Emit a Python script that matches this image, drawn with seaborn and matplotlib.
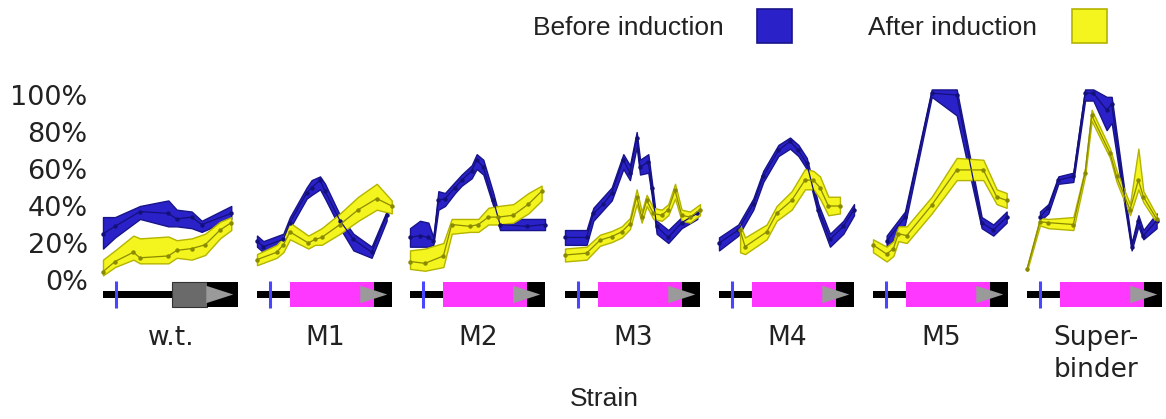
import matplotlib
matplotlib.use("Agg")
import matplotlib.pyplot as plt
import seaborn as sns
import pandas as pd
from matplotlib.patches import Rectangle, Polygon

sns.set_theme(style="white")
plt.rcParams['font.family'] = ['DejaVu Sans']

# ---------------- data ----------------
strains = ["w.t.", "M1", "M2", "M3", "M4", "M5", "Super-\nbinder"]
y_ticks = [0, 20, 40, 60, 80, 100]
y_tick_labels = ["0%", "20%", "40%", "60%", "80%", "100%"]
series_labels = ["Before induction", "After induction"]
x_label = "Strain"

# positions along the construct (0 = start, 1 = end), % bound, band low/high
wt_before_x = [0.0, 0.089, 0.274, 0.484, 0.546, 0.657, 0.731, 0.95]
wt_before_mid = [25, 29, 37, 36, 33, 34, 30, 36]
wt_before_lo = [17, 23, 33, 29, 29, 28, 26, 33]
wt_before_hi = [34, 34, 40, 43, 38, 37, 32, 40]
wt_after_x = [0.0, 0.089, 0.225, 0.274, 0.484, 0.546, 0.657, 0.756, 0.867, 0.95]
wt_after_mid = [4.5, 10, 15, 12, 13, 16, 17, 19, 27, 31]
wt_after_lo = [2.5, 7, 11, 9, 9, 12, 11, 13.5, 22.5, 27]
wt_after_hi = [11, 16, 24, 22.5, 23.5, 21.5, 22.5, 25, 31.5, 34]

m1_before_x = [0.0, 0.047, 0.195, 0.244, 0.368, 0.405, 0.467, 0.504, 0.615, 0.714, 0.849, 0.96]
m1_before_mid = [21, 18, 22, 31, 47, 50, 54, 48, 32, 22, 15, 35]
m1_before_lo = [18, 15, 19, 28, 44, 46, 49, 44, 28, 16, 12, 32]
m1_before_hi = [24, 21, 25, 34, 50, 54, 56, 52, 35, 25, 18, 37]
m1_after_x = [0.0, 0.146, 0.195, 0.244, 0.38, 0.43, 0.479, 0.615, 0.75, 0.887, 0.998]
m1_after_mid = [11, 15, 19, 26, 20, 22, 23, 30, 38, 44, 40]
m1_after_lo = [8, 12, 15, 22, 17, 19, 19, 25, 32, 38, 36]
m1_after_hi = [14, 19, 23, 31, 24, 26, 28, 36, 45, 52, 43]

m2_before_x = [0.0, 0.074, 0.136, 0.173, 0.21, 0.259, 0.333, 0.383, 0.457, 0.494, 0.543, 0.617, 0.667, 0.864, 1.0]
m2_before_mid = [23, 24, 23, 21, 43, 44, 50, 54, 59, 65, 61, 43, 30, 29, 30]
m2_before_lo = [18, 18, 18, 19, 38, 40, 47, 51, 55, 60, 57, 40, 27, 27, 27]
m2_before_hi = [28, 32, 31, 23, 48, 47, 53, 57, 62, 68, 65, 47, 33, 33, 33]
m2_after_x = [0.0, 0.111, 0.247, 0.309, 0.444, 0.506, 0.58, 0.654, 0.765, 0.877, 0.975]
m2_after_mid = [10, 9, 13, 30, 29, 30, 34, 34, 35, 41, 48]
m2_after_lo = [6, 5, 7, 25, 26, 26, 30, 30, 31, 36, 43]
m2_after_hi = [16, 17, 20, 33, 33, 33, 39, 40, 41, 47, 51]

m3_before_x = [0.0, 0.16, 0.21, 0.284, 0.346, 0.432, 0.481, 0.531, 0.556, 0.617, 0.642, 0.679, 0.765, 0.864, 0.98]
m3_before_mid = [23, 23, 36, 41, 47, 65, 58, 77, 61, 64, 50, 29, 23, 31, 36]
m3_before_lo = [19, 19, 32, 38, 43, 60, 54, 72, 57, 58, 46, 25, 20, 28, 33]
m3_before_hi = [27, 27, 39, 45, 50, 68, 62, 80, 65, 68, 54, 32, 27, 34, 39]
m3_after_x = [0.0, 0.16, 0.259, 0.346, 0.42, 0.481, 0.531, 0.568, 0.605, 0.654, 0.716, 0.765, 0.815, 0.864, 0.926, 1.0]
m3_after_mid = [13.5, 14.5, 21.5, 23.5, 26, 30.5, 45, 34, 43, 36, 35, 38, 48.5, 35, 34, 38]
m3_after_lo = [10, 11, 18.5, 20.5, 23, 27.5, 41, 31, 40, 33, 32, 35, 44, 32, 31, 35]
m3_after_hi = [17, 18, 24.5, 26.5, 29, 33.5, 49, 37, 46, 39, 38, 41, 52, 38, 37, 41]

m4_before_x = [0.0, 0.143, 0.254, 0.328, 0.44, 0.526, 0.588, 0.65, 0.736, 0.822, 0.921, 1.0]
m4_before_mid = [20, 27, 41, 56, 70, 75, 70, 63, 38, 22, 29, 38]
m4_before_lo = [16, 24, 38, 53, 67, 71, 67, 60, 35, 18, 25, 35]
m4_before_hi = [23, 30, 44, 59, 73, 77, 73, 66, 41, 25, 32, 41]
m4_after_x = [0.156, 0.193, 0.353, 0.427, 0.538, 0.637, 0.699, 0.748, 0.81, 0.896]
m4_after_mid = [27, 18, 26, 36, 43, 54, 54, 50, 40, 40]
m4_after_lo = [15, 14, 22, 32, 38, 49, 49, 44, 35, 36]
m4_after_hi = [30, 23, 30, 40, 48, 60, 59, 56, 45, 45]

m5_before_x = [0.101, 0.237, 0.435, 0.62, 0.805, 0.891, 0.99]
m5_before_mid = [21, 34, 101, 100, 31, 27, 34]
m5_before_lo = [17, 30, 99, 89, 28, 24, 31]
m5_before_hi = [24, 37, 103, 103, 34, 30, 37]
m5_after_x = [0.0, 0.101, 0.151, 0.188, 0.25, 0.435, 0.62, 0.817, 0.916, 0.99]
m5_after_mid = [19, 14, 17, 25, 24, 40.5, 59.5, 59.5, 45, 43]
m5_after_lo = [15, 10, 13, 21, 20, 36, 54, 54, 41, 39]
m5_after_hi = [22, 18, 21, 29, 29, 45, 66, 65, 49, 47]

sb_before_x = [0.096, 0.158, 0.232, 0.343, 0.43, 0.491, 0.59, 0.627, 0.775, 0.825, 0.862, 0.96]
sb_before_mid = [34, 39, 54, 56, 101, 101, 92, 95, 18, 32, 24, 32]
sb_before_lo = [32, 36, 52, 53, 97, 97, 81, 85, 16, 29, 22, 28]
sb_before_hi = [37, 41, 56, 58, 103, 103, 99, 99, 20, 35, 27, 36]
sb_after_x = [0.0, 0.096, 0.158, 0.343, 0.43, 0.479, 0.615, 0.664, 0.763, 0.825, 0.862, 0.96]
sb_after_mid = [6, 31.5, 31, 30, 58, 89, 68.5, 56, 38, 54, 45, 33]
sb_after_lo = [5, 29.5, 28, 27, 56, 86, 66, 53, 35, 49, 42, 31]
sb_after_hi = [7, 33.5, 33, 34, 60, 92, 71, 59, 41, 71, 48, 35]

# gene construct features (fraction of construct length)
wt_domain = (0.51, 0.77)
mut_domain = (0.245, 0.865)
site_pos = 0.095
arrow_span = (0.765, 0.965)

before_sets = [
    (wt_before_x, wt_before_mid, wt_before_lo, wt_before_hi),
    (m1_before_x, m1_before_mid, m1_before_lo, m1_before_hi),
    (m2_before_x, m2_before_mid, m2_before_lo, m2_before_hi),
    (m3_before_x, m3_before_mid, m3_before_lo, m3_before_hi),
    (m4_before_x, m4_before_mid, m4_before_lo, m4_before_hi),
    (m5_before_x, m5_before_mid, m5_before_lo, m5_before_hi),
    (sb_before_x, sb_before_mid, sb_before_lo, sb_before_hi),
]
after_sets = [
    (wt_after_x, wt_after_mid, wt_after_lo, wt_after_hi),
    (m1_after_x, m1_after_mid, m1_after_lo, m1_after_hi),
    (m2_after_x, m2_after_mid, m2_after_lo, m2_after_hi),
    (m3_after_x, m3_after_mid, m3_after_lo, m3_after_hi),
    (m4_after_x, m4_after_mid, m4_after_lo, m4_after_hi),
    (m5_after_x, m5_after_mid, m5_after_lo, m5_after_hi),
    (sb_after_x, sb_after_mid, sb_after_lo, sb_after_hi),
]

# ---------------- style ----------------
W, H = 1166, 419
BLUE_FILL, BLUE_EDGE, BLUE_LINE = "#2a22c8", "#18148a", "#14107a"
YEL_FILL, YEL_EDGE, YEL_LINE = "#f4f41e", "#b4b400", "#8a8a00"
MAGENTA, DARKGRAY, LIGHTGRAY, SITE = "#ff38ff", "#6a6a6a", "#9a9a9a", "#4a46ff"

panel_left = [103, 257, 410, 565, 719, 873, 1027]
panel_w = 135
top_px, zero_px = 95, 280

fig = plt.figure(figsize=(W / 100, H / 100), dpi=100)
fig.patch.set_facecolor("white")


def fx(px):
    return px / W


def fy(py):
    return 1 - py / H


def draw_series(ax, xs, mid, lo, hi, fill, edge, line):
    df = pd.DataFrame({"pos": xs, "mid": mid, "lo": lo, "hi": hi})
    ax.fill_between(df["pos"], df["lo"], df["hi"], facecolor=fill,
                    edgecolor=edge, linewidth=1.0, clip_on=False, zorder=2)
    sns.lineplot(data=df, x="pos", y="mid", ax=ax, color=line, linewidth=0.9,
                 marker="o", markersize=3.2, markeredgewidth=0,
                 estimator=None, sort=False, clip_on=False, zorder=3)


for i, name in enumerate(strains):
    L = panel_left[i]
    ax = fig.add_axes([fx(L), fy(zero_px), fx(panel_w), (zero_px - top_px) / H])
    bx, bm, bl, bh = before_sets[i]
    axx, am, al, ah = after_sets[i]
    draw_series(ax, bx, bm, bl, bh, BLUE_FILL, BLUE_EDGE, BLUE_LINE)
    draw_series(ax, axx, am, al, ah, YEL_FILL, YEL_EDGE, YEL_LINE)
    ax.set_xlim(0, 1)
    ax.set_ylim(0, 100)
    ax.set_xlabel("")
    ax.set_ylabel("")
    ax.set_xticks([])
    for s in ax.spines.values():
        s.set_visible(False)
    ax.patch.set_alpha(0)
    if i == 0:
        ax.set_yticks(y_ticks)
        ax.set_yticklabels(y_tick_labels, fontsize=19.5, color="#222222")
        ax.tick_params(axis="y", length=0, pad=11)
    else:
        ax.set_yticks([])

    # construct diagram
    g = fig.add_axes([fx(L), fy(309), fx(panel_w), 29 / H])
    g.set_xlim(0, 1)
    g.set_ylim(0, 1)
    g.axis("off")
    dom = wt_domain if i == 0 else mut_domain
    g.add_patch(Rectangle((0, 0.39), dom[0], 0.22, facecolor="black", edgecolor="none"))
    g.add_patch(Rectangle((dom[0], 0.06), dom[1] - dom[0], 0.88,
                          facecolor=DARKGRAY if i == 0 else MAGENTA,
                          edgecolor="#333333" if i == 0 else "none", linewidth=0.8))
    g.add_patch(Rectangle((dom[1], 0.06), 1 - dom[1], 0.88, facecolor="black", edgecolor="none"))
    g.add_patch(Polygon([(arrow_span[0], 0.2), (arrow_span[0], 0.8), (arrow_span[1], 0.5)],
                        closed=True, facecolor=LIGHTGRAY, edgecolor="none"))
    g.plot([site_pos, site_pos], [0.02, 0.98], color=SITE, linewidth=2.2, solid_capstyle="butt")

    fig.text(fx(L + panel_w / 2 + 1), fy(325), name, ha="center", va="top",
             fontsize=19, color="#222222", linespacing=1.3)

# axis title
fig.text(fx(604), fy(399), x_label, ha="center", va="center",
         fontsize=19, family="Liberation Sans", color="#222222")

# legend
fig.text(fx(533), fy(28), series_labels[0], ha="left", va="center",
         fontsize=19, family="Liberation Sans", color="#222222")
fig.add_artist(Rectangle((fx(757), fy(43)), fx(35), 34 / H, transform=fig.transFigure,
                         facecolor=BLUE_FILL, edgecolor=BLUE_EDGE, linewidth=1.2))
fig.text(fx(868), fy(28), series_labels[1], ha="left", va="center",
         fontsize=19, family="Liberation Sans", color="#222222")
fig.add_artist(Rectangle((fx(1072), fy(43)), fx(35), 34 / H, transform=fig.transFigure,
                         facecolor=YEL_FILL, edgecolor=YEL_EDGE, linewidth=1.2))

fig.savefig("out.png", dpi=100)
